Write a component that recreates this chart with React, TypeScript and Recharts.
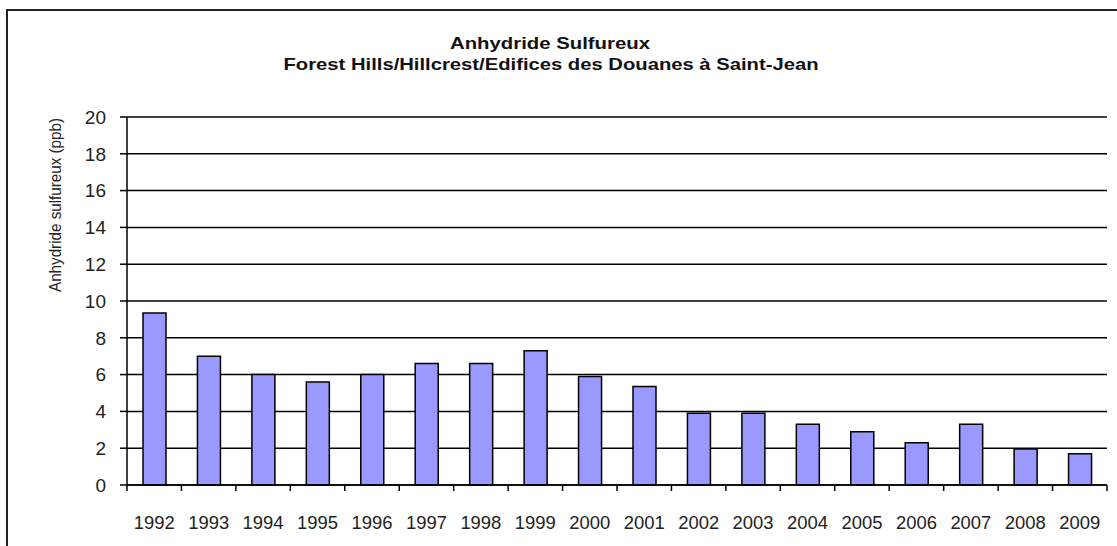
import React from "react";
import { BarChart, Bar, XAxis, YAxis, CartesianGrid } from "recharts";

// Moyennes annuelles d'anhydride sulfureux (ppb)
const years = [
  "1992", "1993", "1994", "1995", "1996", "1997", "1998", "1999", "2000",
  "2001", "2002", "2003", "2004", "2005", "2006", "2007", "2008", "2009",
];
const so2Ppb = [9.35, 7.0, 6.0, 5.6, 6.0, 6.6, 6.6, 7.3, 5.9, 5.35, 3.9, 3.9, 3.3, 2.9, 2.3, 3.3, 1.95, 1.7];
const yTicks = [0, 2, 4, 6, 8, 10, 12, 14, 16, 18, 20];

const titleLines = ["Anhydride Sulfureux", "Forest Hills/Hillcrest/Edifices des Douanes à Saint-Jean"];
const yLabel = "Anhydride sulfureux (ppb)";

const font = "'Liberation Sans', Arial, sans-serif";

// ticks aux limites des catégories, étiquette au centre
function YearTick(props: any) {
  const { x, y, payload, index, visibleTicksCount } = props;
  const half = payload.offset ?? 27;
  const isLast = index === visibleTicksCount - 1;
  return (
    <g>
      <line x1={x - half} y1={y} x2={x - half} y2={y + 6} stroke="#000" strokeWidth={1.5} />
      {isLast && <line x1={x + half} y1={y} x2={x + half} y2={y + 6} stroke="#000" strokeWidth={1.5} />}
      <text
        x={x}
        y={y + 44}
        textAnchor="middle"
        fill="#222"
        fontSize={19}
        fontFamily={font}
        textLength={41}
        lengthAdjust="spacingAndGlyphs"
      >
        {payload.value}
      </text>
    </g>
  );
}

export default function App() {
  const data = years.map((year, i) => ({ year, value: so2Ppb[i] }));

  return (
    <div
      style={{
        position: "absolute",
        left: 0,
        top: 0,
        width: 1117,
        height: 546,
        overflow: "hidden",
        background: "#fff",
      }}
    >
      {/* cadre du graphique */}
      <div
        style={{
          position: "absolute",
          left: 6,
          top: 9,
          width: 1200,
          height: 700,
          border: "2px solid #222",
          boxSizing: "border-box",
        }}
      />
      <svg
        width={1117}
        height={546}
        style={{ position: "absolute", left: 0, top: 0 }}
        fontFamily={font}
      >
        <text
          x={550}
          y={49}
          textAnchor="middle"
          fontSize={17}
          fontWeight="bold"
          fill="#111"
          textLength={200}
          lengthAdjust="spacingAndGlyphs"
        >
          {titleLines[0]}
        </text>
        <text
          x={551}
          y={70}
          textAnchor="middle"
          fontSize={17}
          fontWeight="bold"
          fill="#111"
          textLength={535}
          lengthAdjust="spacingAndGlyphs"
        >
          {titleLines[1]}
        </text>
        <text
          transform="translate(55, 205) rotate(-90)"
          textAnchor="middle"
          dominantBaseline="central"
          fontSize={16}
          fill="#222"
          textLength={174}
          lengthAdjust="spacingAndGlyphs"
        >
          {yLabel}
        </text>
      </svg>
      <div style={{ position: "absolute", left: 0, top: 0 }}>
        <BarChart
          width={1117}
          height={546}
          data={data}
          margin={{ top: 117, right: 10, bottom: 31, left: 67 }}
          barSize={23}
        >
          <CartesianGrid vertical={false} stroke="#000" strokeWidth={1.5} />
          <XAxis
            dataKey="year"
            height={30}
            axisLine={{ stroke: "#000", strokeWidth: 1.5 }}
            tickLine={false}
            tickSize={0}
            tickMargin={0}
            interval={0}
            tick={<YearTick />}
          />
          <YAxis
            width={60}
            domain={[0, 20]}
            ticks={yTicks}
            interval={0}
            axisLine={{ stroke: "#000", strokeWidth: 1.5 }}
            tickLine={{ stroke: "#000", strokeWidth: 1.5 }}
            tickSize={7}
            tickMargin={14}
            tick={{ fill: "#222", fontSize: 19, fontFamily: font }}
          />
          <YAxis
            yAxisId="right"
            orientation="right"
            width={0}
            tick={false}
            tickLine={false}
            axisLine={{ stroke: "#888", strokeWidth: 1.5 }}
          />
          <Bar dataKey="value" fill="#9999FF" stroke="#000" strokeWidth={1.5} isAnimationActive={false} />
        </BarChart>
      </div>
    </div>
  );
}
